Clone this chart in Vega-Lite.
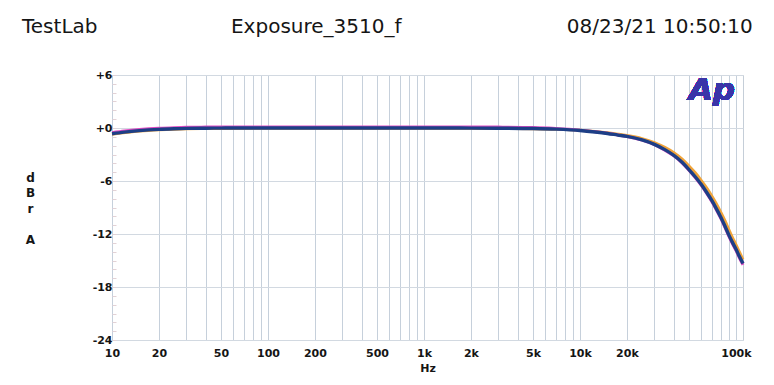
{
  "$schema": "https://vega.github.io/schema/vega-lite/v6.json",
  "width": 631,
  "height": 265,
  "autosize": {"type": "none"},
  "padding": {"left": 112, "top": 75, "right": 31, "bottom": 45},
  "background": "white",
  "config": {"view": {"stroke": "#c5ced8", "strokeWidth": 1}, "font": "DejaVu Sans"},
  "title": {
    "text": "TestLab\u00a0\u00a0\u00a0\u00a0\u00a0\u00a0\u00a0\u00a0\u00a0\u00a0\u00a0\u00a0\u00a0\u00a0\u00a0\u00a0\u00a0\u00a0\u00a0\u00a0\u00a0Exposure_3510_f\u00a0\u00a0\u00a0\u00a0\u00a0\u00a0\u00a0\u00a0\u00a0\u00a0\u00a0\u00a0\u00a0\u00a0\u00a0\u00a0\u00a0\u00a0\u00a0\u00a0\u00a0\u00a0\u00a0\u00a0\u00a0\u00a008/23/21 10:50:10",
    "anchor": "start",
    "frame": "group",
    "dx": -90,
    "dy": 19,
    "offset": 35,
    "baseline": "alphabetic",
    "font": "DejaVu Sans",
    "fontSize": 20,
    "fontWeight": "normal",
    "color": "#151515"
  },
  "data": {"values": [
    {"ch": "o", "f": 10, "db": -0.7}, {"ch": "o", "f": 15, "db": -0.35}, {"ch": "o", "f": 20, "db": -0.2}, {"ch": "o", "f": 30, "db": -0.08},
    {"ch": "o", "f": 50, "db": -0.05}, {"ch": "o", "f": 100, "db": -0.04}, {"ch": "o", "f": 1000, "db": -0.04}, {"ch": "o", "f": 3000, "db": -0.05},
    {"ch": "o", "f": 5000, "db": -0.08}, {"ch": "o", "f": 7000, "db": -0.14}, {"ch": "o", "f": 10000, "db": -0.25}, {"ch": "o", "f": 12500, "db": -0.4},
    {"ch": "o", "f": 15000, "db": -0.55}, {"ch": "o", "f": 17500, "db": -0.7}, {"ch": "o", "f": 20000, "db": -0.85}, {"ch": "o", "f": 25000, "db": -1.2},
    {"ch": "o", "f": 30000, "db": -1.65}, {"ch": "o", "f": 35000, "db": -2.2}, {"ch": "o", "f": 40000, "db": -2.8}, {"ch": "o", "f": 45000, "db": -3.5},
    {"ch": "o", "f": 50000, "db": -4.3}, {"ch": "o", "f": 55000, "db": -5.1}, {"ch": "o", "f": 60000, "db": -5.95}, {"ch": "o", "f": 65000, "db": -6.8},
    {"ch": "o", "f": 70000, "db": -7.7}, {"ch": "o", "f": 75000, "db": -8.6}, {"ch": "o", "f": 80000, "db": -9.55}, {"ch": "o", "f": 85000, "db": -10.5},
    {"ch": "o", "f": 90000, "db": -11.5}, {"ch": "o", "f": 95000, "db": -12.4}, {"ch": "o", "f": 100000, "db": -13.2}, {"ch": "o", "f": 105000, "db": -14.0},
    {"ch": "o", "f": 111000, "db": -14.9},

    {"ch": "m", "f": 10, "db": -0.53}, {"ch": "m", "f": 12, "db": -0.35}, {"ch": "m", "f": 15, "db": -0.18}, {"ch": "m", "f": 20, "db": -0.03},
    {"ch": "m", "f": 25, "db": 0.04}, {"ch": "m", "f": 30, "db": 0.08}, {"ch": "m", "f": 40, "db": 0.1}, {"ch": "m", "f": 50, "db": 0.11},
    {"ch": "m", "f": 100, "db": 0.12}, {"ch": "m", "f": 1000, "db": 0.12}, {"ch": "m", "f": 2000, "db": 0.11}, {"ch": "m", "f": 3000, "db": 0.1},
    {"ch": "m", "f": 5000, "db": 0.06}, {"ch": "m", "f": 7000, "db": -0.05}, {"ch": "m", "f": 10000, "db": -0.24}, {"ch": "m", "f": 12500, "db": -0.42},
    {"ch": "m", "f": 15000, "db": -0.6}, {"ch": "m", "f": 17500, "db": -0.79}, {"ch": "m", "f": 20000, "db": -0.96}, {"ch": "m", "f": 25000, "db": -1.38},
    {"ch": "m", "f": 30000, "db": -1.89}, {"ch": "m", "f": 35000, "db": -2.5}, {"ch": "m", "f": 40000, "db": -3.16}, {"ch": "m", "f": 45000, "db": -3.92},
    {"ch": "m", "f": 50000, "db": -4.78}, {"ch": "m", "f": 55000, "db": -5.64}, {"ch": "m", "f": 60000, "db": -6.5}, {"ch": "m", "f": 65000, "db": -7.41},
    {"ch": "m", "f": 70000, "db": -8.32}, {"ch": "m", "f": 75000, "db": -9.28}, {"ch": "m", "f": 80000, "db": -10.24}, {"ch": "m", "f": 85000, "db": -11.25},
    {"ch": "m", "f": 90000, "db": -12.25}, {"ch": "m", "f": 95000, "db": -13.1}, {"ch": "m", "f": 100000, "db": -13.86}, {"ch": "m", "f": 105000, "db": -14.66},
    {"ch": "m", "f": 111000, "db": -15.5},

    {"ch": "b", "f": 10, "db": -0.65}, {"ch": "b", "f": 12, "db": -0.47}, {"ch": "b", "f": 15, "db": -0.3}, {"ch": "b", "f": 20, "db": -0.15},
    {"ch": "b", "f": 25, "db": -0.08}, {"ch": "b", "f": 30, "db": -0.04}, {"ch": "b", "f": 40, "db": -0.02}, {"ch": "b", "f": 50, "db": -0.01},
    {"ch": "b", "f": 70, "db": 0}, {"ch": "b", "f": 100, "db": 0}, {"ch": "b", "f": 200, "db": 0}, {"ch": "b", "f": 500, "db": 0},
    {"ch": "b", "f": 1000, "db": 0}, {"ch": "b", "f": 2000, "db": -0.01}, {"ch": "b", "f": 3000, "db": -0.02}, {"ch": "b", "f": 5000, "db": -0.06},
    {"ch": "b", "f": 7000, "db": -0.13}, {"ch": "b", "f": 10000, "db": -0.28}, {"ch": "b", "f": 12500, "db": -0.45}, {"ch": "b", "f": 15000, "db": -0.62},
    {"ch": "b", "f": 17500, "db": -0.8}, {"ch": "b", "f": 20000, "db": -0.95}, {"ch": "b", "f": 25000, "db": -1.35}, {"ch": "b", "f": 30000, "db": -1.85},
    {"ch": "b", "f": 35000, "db": -2.45}, {"ch": "b", "f": 40000, "db": -3.1}, {"ch": "b", "f": 45000, "db": -3.85}, {"ch": "b", "f": 50000, "db": -4.7},
    {"ch": "b", "f": 55000, "db": -5.55}, {"ch": "b", "f": 60000, "db": -6.4}, {"ch": "b", "f": 65000, "db": -7.3}, {"ch": "b", "f": 70000, "db": -8.2},
    {"ch": "b", "f": 75000, "db": -9.15}, {"ch": "b", "f": 80000, "db": -10.1}, {"ch": "b", "f": 85000, "db": -11.1}, {"ch": "b", "f": 90000, "db": -12.1},
    {"ch": "b", "f": 95000, "db": -12.95}, {"ch": "b", "f": 100000, "db": -13.7}, {"ch": "b", "f": 105000, "db": -14.5}, {"ch": "b", "f": 111000, "db": -15.35}
  ]},
  "encoding": {
    "x": {
      "field": "f",
      "type": "quantitative",
      "scale": {"type": "log", "domain": [10, 111000], "nice": false},
      "axis": {
        "values": [10, 20, 30, 40, 50, 60, 70, 80, 90, 100, 200, 300, 400, 500, 600, 700, 800, 900, 1000, 2000, 3000, 4000, 5000, 6000, 7000, 8000, 9000, 10000, 20000, 30000, 40000, 50000, 60000, 70000, 80000, 90000, 100000],
        "grid": true,
        "gridColor": "#c6d0db",
        "gridWidth": 1,
        "ticks": false,
        "domain": false,
        "labelExpr": "indexof([10,20,50,100,200,500,1000,2000,5000,10000,20000,100000], datum.value) >= 0 ? (datum.value >= 1000 ? (datum.value / 1000) + 'k' : '' + datum.value) : ''",
        "labelFlush": false,
        "labelOverlap": false,
        "labelFont": "DejaVu Sans",
        "labelFontWeight": "bold",
        "labelFontSize": 11,
        "labelColor": "#151515",
        "labelPadding": 7,
        "title": "Hz",
        "titleFont": "DejaVu Sans",
        "titleFontSize": 11,
        "titleFontWeight": "bold",
        "titleColor": "#151515",
        "titlePadding": 4
      }
    },
    "y": {
      "field": "db",
      "type": "quantitative",
      "scale": {"domain": [-24, 6], "nice": false},
      "axis": {
        "values": [-24, -23, -22, -21, -20, -19, -18, -17, -16, -15, -14, -13, -12, -11, -10, -9, -8, -7, -6, -5, -4, -3, -2, -1, 0, 1, 2, 3, 4, 5, 6],
        "grid": true,
        "gridColor": "#d2d9e1",
        "gridOpacity": {"condition": {"test": "datum.value % 6 === 0", "value": 1}, "value": 0},
        "ticks": true,
        "tickSize": -4,
        "tickColor": "#e2d2d6",
        "domain": false,
        "labelExpr": "datum.value % 6 === 0 ? (datum.value > 0 ? '+' + datum.value : (datum.value === 0 ? '+0' : '' + datum.value)) : ''",
        "labelOverlap": false,
        "labelFlush": false,
        "labelFont": "DejaVu Sans",
        "labelFontWeight": "bold",
        "labelFontSize": 11,
        "labelColor": "#151515",
        "labelPadding": 4,
        "title": ["d", "B", "r", "\u200b", "A"],
        "titleAngle": 0,
        "titleAlign": "center",
        "titleBaseline": "top",
        "titleX": -82,
        "titleY": 97,
        "titleFont": "DejaVu Sans",
        "titleFontSize": 12,
        "titleFontWeight": "bold",
        "titleColor": "#151515",
        "titleLineHeight": 15.5
      }
    }
  },
  "layer": [
    {
      "transform": [{"filter": "datum.ch === 'o'"}],
      "mark": {"type": "line", "color": "#f0a43a", "strokeWidth": 3, "interpolate": "monotone"}
    },
    {
      "transform": [{"filter": "datum.ch === 'm'"}],
      "mark": {"type": "line", "color": "#e04cc4", "strokeWidth": 3, "interpolate": "monotone"}
    },
    {
      "transform": [{"filter": "datum.ch === 'b'"}],
      "mark": {"type": "line", "color": "#1d3f86", "strokeWidth": 3.4, "interpolate": "monotone"}
    },
    {
      "mark": {"type": "text", "text": "Ap", "font": "DejaVu Sans", "fontSize": 31, "fontWeight": "bold", "fontStyle": "italic", "color": "#3a35a8", "align": "center", "baseline": "alphabetic"},
      "encoding": {
        "x": {"datum": 70000, "type": "quantitative"},
        "y": {"datum": 3.2, "type": "quantitative"}
      }
    }
  ]
}
